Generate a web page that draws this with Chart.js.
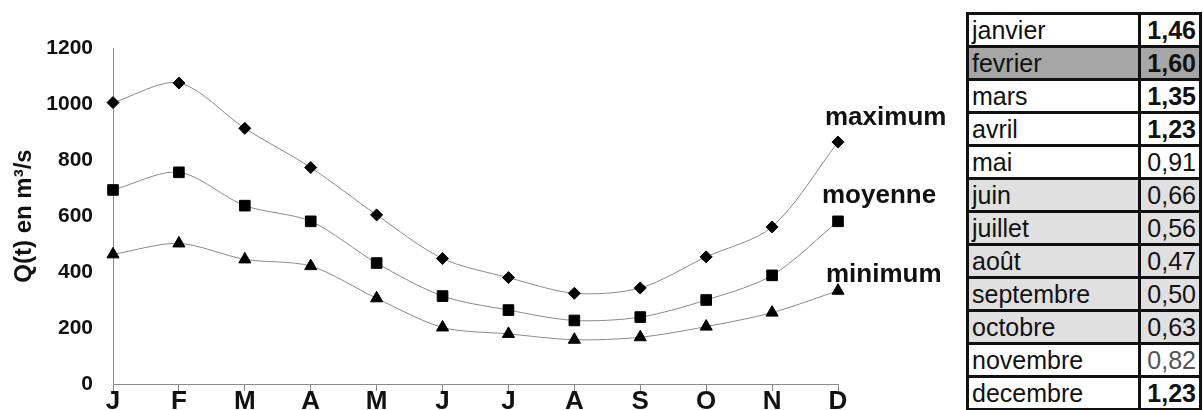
<!DOCTYPE html>
<html>
<head>
<meta charset="utf-8">
<script src="https://cdn.jsdelivr.net/npm/chart.js@4"></script>
<style>
  body { margin: 0; background: #fff; }
  #wrap { position: absolute; left: 0; top: 0; width: 960px; height: 410px; }
  #coefs {
    position: absolute; left: 966px; top: 12px; width: 236px;
    border-collapse: collapse;
    font-family: "Liberation Sans", Arial, sans-serif; font-size: 25px;
  }
  #coefs td { border: 3px solid #111; height: 30px; padding: 0 3px; line-height: 30px; color: #111; }
  #coefs td.val { text-align: right; width: 52px; }
</style>
</head>
<body>
<div id="wrap"><canvas id="debitChart" width="960" height="410"></canvas></div>
<table id="coefs"></table>
<script>
// mois (axe x)
const months = ['J', 'F', 'M', 'A', 'M', 'J', 'J', 'A', 'S', 'O', 'N', 'D'];
const yTicks = [0, 200, 400, 600, 800, 1000, 1200];

// débits en m3/s
const qMax = [1005, 1075, 913, 773, 604, 448, 380, 324, 343, 454, 561, 864];
const qMoy = [693, 756, 637, 581, 432, 314, 264, 227, 239, 300, 388, 581];
const qMin = [463, 502, 445, 421, 306, 202, 179, 158, 167, 205, 255, 333];

// tableau des coefficients mensuels
const tableMonths = ['janvier', 'fevrier', 'mars', 'avril', 'mai', 'juin', 'juillet', 'août', 'septembre', 'octobre', 'novembre', 'decembre'];
const tableValues = ['1,46', '1,60', '1,35', '1,23', '0,91', '0,66', '0,56', '0,47', '0,50', '0,63', '0,82', '1,23'];

// styles des lignes du tableau
const rowBg = { 1: '#a6a6a6', 5: '#e0e0e0', 6: '#e0e0e0', 7: '#e0e0e0', 8: '#e0e0e0', 9: '#e0e0e0' };
const table = document.getElementById('coefs');
tableMonths.forEach(function(m, i) {
    const tr = document.createElement('tr');
    tr.style.background = rowBg[i] || '#fff';
    const td1 = document.createElement('td');
    td1.textContent = m;
    const td2 = document.createElement('td');
    td2.className = 'val';
    td2.textContent = tableValues[i];
    if (tableValues[i].charAt(0) === '1') td2.style.fontWeight = 'bold';
    if (i === 10) td2.style.color = '#555';
    tr.appendChild(td1);
    tr.appendChild(td2);
    table.appendChild(tr);
});

const FONT = '"Liberation Sans", Arial, sans-serif';

// étiquettes des séries à droite de la dernière valeur
const seriesLabels = {
    id: 'seriesLabels',
    afterDatasetsDraw(chart, args, opts) {
        const ctx = chart.ctx;
        ctx.save();
        ctx.font = 'bold 26px ' + FONT;
        ctx.fillStyle = '#111';
        ctx.textAlign = 'left';
        ctx.textBaseline = 'alphabetic';
        chart.data.datasets.forEach(function(ds, i) {
            const meta = chart.getDatasetMeta(i);
            const pt = meta.data[meta.data.length - 1];
            ctx.fillText(ds.label, pt.x + opts.dx[i], pt.y + opts.dy[i]);
        });
        ctx.restore();
    }
};

function series(label, data, style, radius) {
    return {
        label: label,
        data: data,
        borderColor: '#8a8a8a',
        borderWidth: 1,
        tension: 0.3,
        pointStyle: style,
        pointRadius: radius,
        pointBackgroundColor: '#000',
        pointBorderColor: '#000',
        pointBorderWidth: 1
    };
}

const ctx = document.getElementById('debitChart').getContext('2d');
new Chart(ctx, {
    type: 'line',
    data: {
        labels: months,
        datasets: [
            series('maximum', qMax, 'rectRot', 6),
            series('moyenne', qMoy, 'rect', 7.5),
            series('minimum', qMin, 'triangle', 7)
        ]
    },
    plugins: [seriesLabels],
    options: {
        responsive: false,
        animation: false,
        layout: { padding: { left: 0, right: 122, top: 48, bottom: 0 } },
        plugins: {
            legend: { display: false },
            tooltip: { enabled: false },
            seriesLabels: { dx: [-13, -16, -12], dy: [-17, -18, -9] }
        },
        scales: {
            x: {
                offset: false,
                grid: { display: true, drawOnChartArea: false, drawTicks: true, tickLength: 7, color: '#8a8a8a' },
                border: { display: true, color: '#8a8a8a', width: 1 },
                ticks: { color: '#111', font: { family: FONT, size: 26, weight: 'bold' }, padding: -5, maxRotation: 0, autoSkip: false },
                afterFit(scale) { scale.height = 26; }
            },
            y: {
                min: 0,
                max: 1200,
                afterBuildTicks(scale) { scale.ticks = yTicks.map(v => ({ value: v })); },
                // marques invisibles : servent seulement à décaler les libellés
                grid: { display: true, drawOnChartArea: false, drawTicks: true, tickLength: 17, color: 'rgba(0,0,0,0)' },
                border: { display: true, color: '#8a8a8a', width: 1 },
                ticks: {
                    color: '#111',
                    font: { family: FONT, size: 21, weight: 'bold' },
                    padding: 3,
                    callback: v => String(v)
                },
                title: {
                    display: true,
                    text: 'Q(t) en m³/s',
                    color: '#111',
                    font: { family: FONT, size: 24, weight: 'bold' },
                    padding: { top: 10, bottom: 0 }
                },
                afterFit(scale) { scale.width = 113; }
            }
        }
    }
});
</script>
</body>
</html>
